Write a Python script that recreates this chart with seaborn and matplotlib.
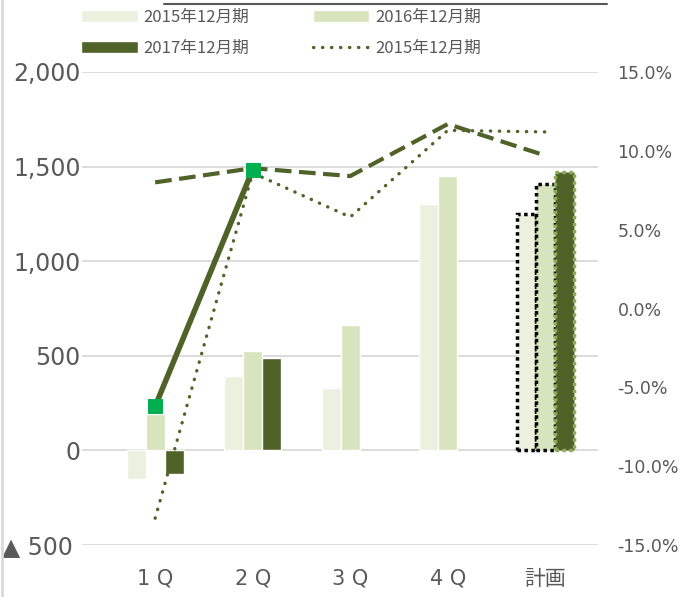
import numpy as np
import pandas as pd
import matplotlib
matplotlib.use('Agg')
import matplotlib.pyplot as plt
import seaborn as sns
from matplotlib.patches import Patch
from matplotlib.lines import Line2D
from matplotlib.ticker import FuncFormatter

# data
quarters = ['1 Q', '2 Q', '3 Q', '4 Q', '計画']
periods = ['2015年12月期', '2016年12月期', '2017年12月期']
sales_2015 = [-150, 395, 328, 1300, 1247]
sales_2016 = [195, 528, 665, 1448, 1406]
sales_2017 = [-125, 490, np.nan, np.nan, 1469]
margin_2015 = [-13.3, 8.6, 5.8, 11.3, 11.2]
margin_2016 = [8.0, 8.9, 8.4, 11.7, 9.7]
margin_2017 = [-6.2, 8.8, np.nan, np.nan, np.nan]

bar_colors = ['#EBF1DE', '#D7E4BD', '#4F6228']
line_color = '#4F6228'
text_color = '#595959'

df = pd.DataFrame({
    'quarter': quarters * 3,
    'period': [p for p in periods for _ in quarters],
    'sales': sales_2015 + sales_2016 + sales_2017,
})

sns.set_style('white')
plt.rcParams['font.family'] = ['DejaVu Sans', 'Noto Sans CJK JP']

fig = plt.figure(figsize=(6.79, 5.97), dpi=100)
ax = fig.add_axes([82 / 679, 1 - 545 / 597, 516 / 679, 473 / 597])

sns.barplot(data=df, x='quarter', y='sales', hue='period', order=quarters,
            hue_order=periods, palette=bar_colors, width=0.585, dodge=True,
            saturation=1, legend=False, ax=ax, zorder=2)

# dotted outline on the plan bars
for p in ax.patches:
    xc = p.get_x() + p.get_width() / 2
    if xc > 3.5:
        if p.get_facecolor()[0] < 0.5:
            p.set_edgecolor('#8FAA5C')
        else:
            p.set_edgecolor('black')
        p.set_linestyle((0, (1, 1)))
        p.set_linewidth(2.5)

ax.set_xlim(-0.75, 4.54)
ax.set_ylim(-500, 2000)
ax.set_yticks([-500, 0, 500, 1000, 1500, 2000])
ax.yaxis.set_major_formatter(FuncFormatter(
    lambda v, pos: f'▲ {abs(v):,.0f} ' if v < 0 else f'{v:,.0f}'))
ax.grid(axis='y', color='#D9D9D9', linewidth=1.3, zorder=0)
ax.set_axisbelow(True)
ax.set_xlabel('')
ax.set_ylabel('')
ax.tick_params(axis='y', length=0, pad=1, labelsize=17, labelcolor=text_color)
ax.tick_params(axis='x', length=0, pad=17, labelsize=15, labelcolor=text_color)
sns.despine(ax=ax, left=True, bottom=True)

ax2 = ax.twinx()
xpos = list(range(len(quarters)))
sns.lineplot(x=xpos, y=margin_2016, ax=ax2, color=line_color, linewidth=3,
             linestyle=(0, (4, 1.8)), sort=False)
sns.lineplot(x=xpos, y=margin_2015, ax=ax2, color=line_color, linewidth=2.4,
             linestyle=(0, (0.1, 2.6)), dash_capstyle='round', sort=False)
sns.lineplot(x=xpos, y=margin_2017, ax=ax2, color=line_color, linewidth=4,
             marker='s', markersize=10, markerfacecolor='#00B050',
             markeredgecolor='#00B050', sort=False)
ax2.set_ylim(-15, 15)
ax2.set_yticks([-15, -10, -5, 0, 5, 10, 15])
ax2.yaxis.set_major_formatter(FuncFormatter(lambda v, pos: f'{v:.1f}%'))
ax2.tick_params(axis='y', length=0, pad=14, labelsize=12.5, labelcolor=text_color)
ax2.set_ylabel('')
ax2.grid(False)
sns.despine(ax=ax2, left=True, bottom=True, right=True)
ax2.set_xlim(-0.75, 4.54)

# legend (filled column by column, so order gives rows 2015/2016, 2017/dotted)
dotted = Line2D([], [], color=line_color, linewidth=2.4,
                linestyle=(0, (0.1, 2.6)), dash_capstyle='round')
handles = [Patch(facecolor=bar_colors[0]), Patch(facecolor=bar_colors[2]),
           Patch(facecolor=bar_colors[1]), dotted]
labels = ['2015年12月期', '2017年12月期', '2016年12月期', '2015年12月期']
fig.legend(handles, labels, ncol=2, loc='upper left',
           bbox_to_anchor=(81 / 679, 1 - 9 / 597), frameon=False,
           borderpad=0, borderaxespad=0, handlelength=3.4, handletextpad=0.35,
           columnspacing=3.8, labelspacing=0.85,
           prop={'family': ['Noto Sans CJK JP'], 'size': 12},
           labelcolor=text_color)

# frame decorations
fig.add_artist(Line2D([2 / 679, 2 / 679], [0, 1], color='#D9D9D9', linewidth=2))
fig.add_artist(Line2D([164 / 679, 607 / 679], [1 - 4 / 597, 1 - 4 / 597],
                      color='#595959', linewidth=1.5))

fig.savefig('out.png', dpi=100)
